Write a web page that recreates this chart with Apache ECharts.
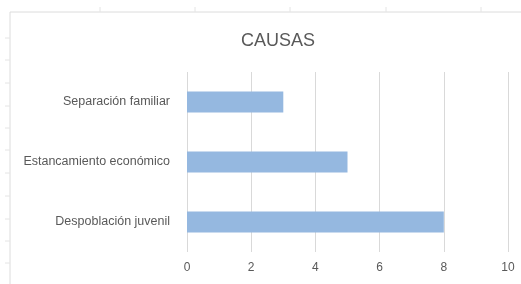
<!DOCTYPE html>
<html>
<head>
<meta charset="utf-8">
<script src="https://cdn.jsdelivr.net/npm/echarts@6/dist/echarts.min.js"></script>
<style>
  html, body { margin: 0; padding: 0; background: #fff; }
  #main { width: 521px; height: 284px; }
</style>
</head>
<body>
<div id="main"></div>
<script>
// categories bottom to top, as the bar chart lists them
const categories = ['Despoblación juvenil', 'Estancamiento económico', 'Separación familiar'];
const values = [8, 5, 3];
const xTicks = [0, 2, 4, 6, 8, 10];

const chart = echarts.init(document.getElementById('main'));

// spreadsheet frame behind the chart (row / column lines)
const frame = [
  { type: 'line', shape: { x1: 10, y1: 12, x2: 521, y2: 12 }, style: { stroke: '#dcdcdc', lineWidth: 1 } },
  { type: 'line', shape: { x1: 10, y1: 12, x2: 10, y2: 284 }, style: { stroke: '#dcdcdc', lineWidth: 1 } }
];
[100, 195, 290, 386, 481].forEach(function (x) {
  frame.push({ type: 'line', shape: { x1: x, y1: 7, x2: x, y2: 12 }, style: { stroke: '#e4e4e4', lineWidth: 1 } });
});
[38, 60, 83, 106, 128, 150, 173, 196, 219, 241, 263].forEach(function (y) {
  frame.push({ type: 'line', shape: { x1: 5, y1: y, x2: 10, y2: y }, style: { stroke: '#e4e4e4', lineWidth: 1 } });
});

let option = {
  animation: false,
  textStyle: { fontFamily: 'Liberation Sans' },
  title: {
    text: 'CAUSAS',
    left: 236,
    top: 27,
    textStyle: { fontSize: 18, fontWeight: 'normal', color: '#595959', fontFamily: 'Liberation Sans' }
  },
  graphic: frame,
  grid: {
    left: 187,
    right: 13,
    top: 72,
    bottom: 32
  },
  xAxis: {
    type: 'value',
    min: xTicks[0],
    max: xTicks[xTicks.length - 1],
    interval: 2,
    axisLine: { show: false },
    axisTick: { show: false },
    axisLabel: { color: '#595959', fontSize: 12, margin: 10 },
    splitLine: { lineStyle: { color: '#d9d9d9', width: 1 } }
  },
  yAxis: {
    type: 'category',
    data: categories,
    axisLine: { show: false },
    axisTick: { show: false },
    axisLabel: { color: '#595959', fontSize: 12.5, margin: 17 }
  },
  series: [
    {
      type: 'bar',
      data: values,
      barWidth: '35%',
      itemStyle: { color: '#95b8e0' }
    }
  ]
};

chart.setOption(option);
</script>
</body>
</html>
